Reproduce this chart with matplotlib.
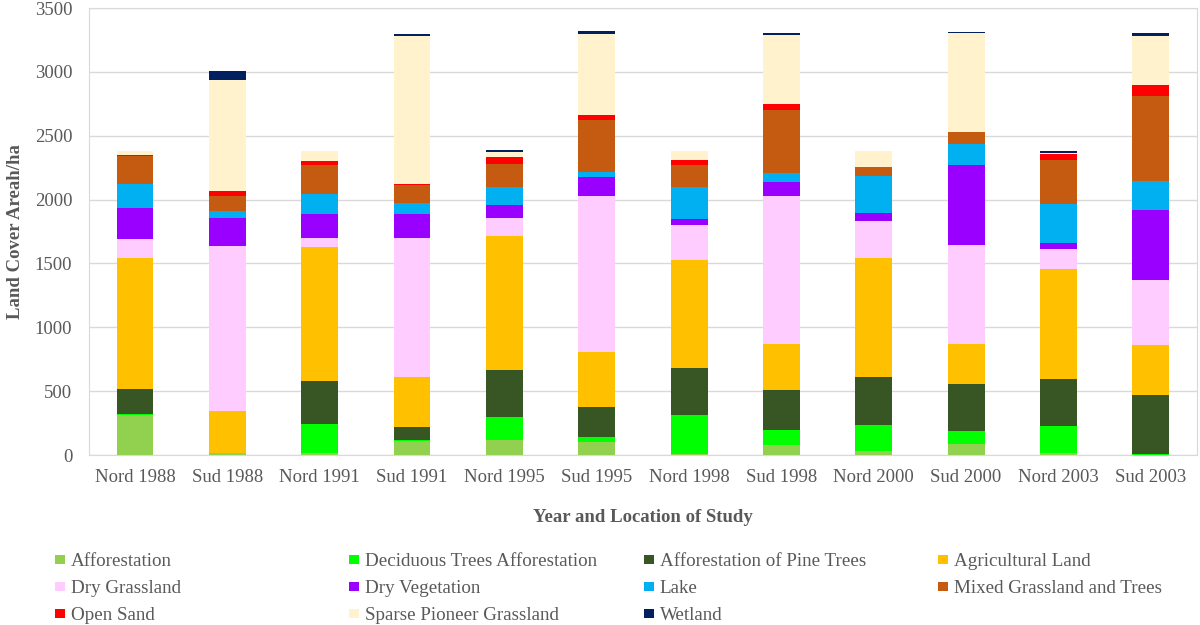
import numpy as np
import matplotlib
matplotlib.use('Agg')
import matplotlib.pyplot as plt
from matplotlib.patches import Patch

# Data
sites = ['Nord 1988', 'Sud 1988', 'Nord 1991', 'Sud 1991', 'Nord 1995', 'Sud 1995',
         'Nord 1998', 'Sud 1998', 'Nord 2000', 'Sud 2000', 'Nord 2003', 'Sud 2003']

afforestation = [313, 18, 15, 107, 115, 104, 5, 78, 29, 86, 16, 3]
deciduous = [5, 0, 228, 10, 183, 40, 308, 115, 203, 102, 214, 5]
pine_trees = [196, 0, 336, 102, 370, 229, 366, 316, 381, 368, 365, 464]
agricultural = [1026, 324, 1052, 389, 1047, 436, 848, 360, 930, 313, 864, 392]
dry_grassland = [154, 1294, 71, 1094, 138, 1222, 277, 1156, 292, 773, 154, 506]
dry_vegetation = [243, 222, 182, 185, 102, 143, 41, 115, 60, 629, 50, 548]
lake = [185, 55, 157, 84, 143, 42, 251, 71, 287, 162, 300, 230]
mixed = [219, 112, 232, 143, 178, 410, 172, 488, 70, 99, 344, 663]
open_sand = [8, 45, 29, 11, 57, 34, 39, 49, 0, 0, 47, 83]
sparse = [31, 866, 78, 1158, 37, 636, 73, 541, 128, 770, 13, 387]
wetland = [0, 73, 0, 16, 18, 21, 0, 20, 0, 8, 16, 21]

names = ['Afforestation', 'Deciduous Trees Afforestation', 'Afforestation of Pine Trees',
         'Agricultural Land', 'Dry Grassland', 'Dry Vegetation', 'Lake',
         'Mixed Grassland and Trees', 'Open Sand', 'Sparse Pioneer Grassland', 'Wetland']
series = [afforestation, deciduous, pine_trees, agricultural, dry_grassland, dry_vegetation,
          lake, mixed, open_sand, sparse, wetland]
colors = ['#92D050', '#00FF00', '#375623', '#FFC000', '#FFCCFF', '#9900FF',
          '#00B0F0', '#C55A11', '#FF0000', '#FFF2CC', '#002060']

plt.rcParams['font.family'] = ['Liberation Serif', 'DejaVu Serif']
text_col = '#595959'

fig = plt.figure(figsize=(12, 6.25), dpi=100)
ax = fig.add_axes([0.074, 0.272, 0.9235, 0.715])

x = np.arange(len(sites))
bottom = np.zeros(len(sites))
for vals, name, col in zip(series, names, colors):
    ax.bar(x, vals, width=0.4, bottom=bottom, color=col, label=name, zorder=3)
    bottom += np.array(vals)

# Axes styling
ax.set_xlim(-0.5, len(sites) - 0.5)
ax.set_ylim(0, 3500)
ax.set_yticks(np.arange(0, 3501, 500))
ax.set_xticks(x)
ax.set_xticklabels(sites)
ax.tick_params(axis='both', length=0, labelsize=13.5, colors=text_col)
ax.tick_params(axis='x', pad=10)
ax.tick_params(axis='y', pad=12)
ax.yaxis.grid(True, color='#D9D9D9', linewidth=1, zorder=0)
for sp in ax.spines.values():
    sp.set_color('#D9D9D9')

ax.set_ylabel('Land Cover Areah/ha', fontsize=13.5, fontweight='bold', color=text_col, labelpad=8)
ax.set_xlabel('Year and Location of Study', fontsize=13.5, fontweight='bold', color=text_col, labelpad=17)

# Legend laid out as in the original: 4 equal columns, row-wise order
col_x = [0.0383, 0.2833, 0.529, 0.774]
for c in range(4):
    idx = [i for i in range(len(names)) if i % 4 == c]
    handles = [Patch(facecolor=colors[i], label=names[i]) for i in idx]
    leg = fig.legend(handles=handles, loc='upper left', bbox_to_anchor=(col_x[c], 0.13),
                     frameon=False, fontsize=13.7, handlelength=0.5, handleheight=0.38,
                     handletextpad=0.3, labelspacing=0.52, borderpad=0)
    for t in leg.get_texts():
        t.set_color(text_col)

fig.savefig('out.png', dpi=100)
